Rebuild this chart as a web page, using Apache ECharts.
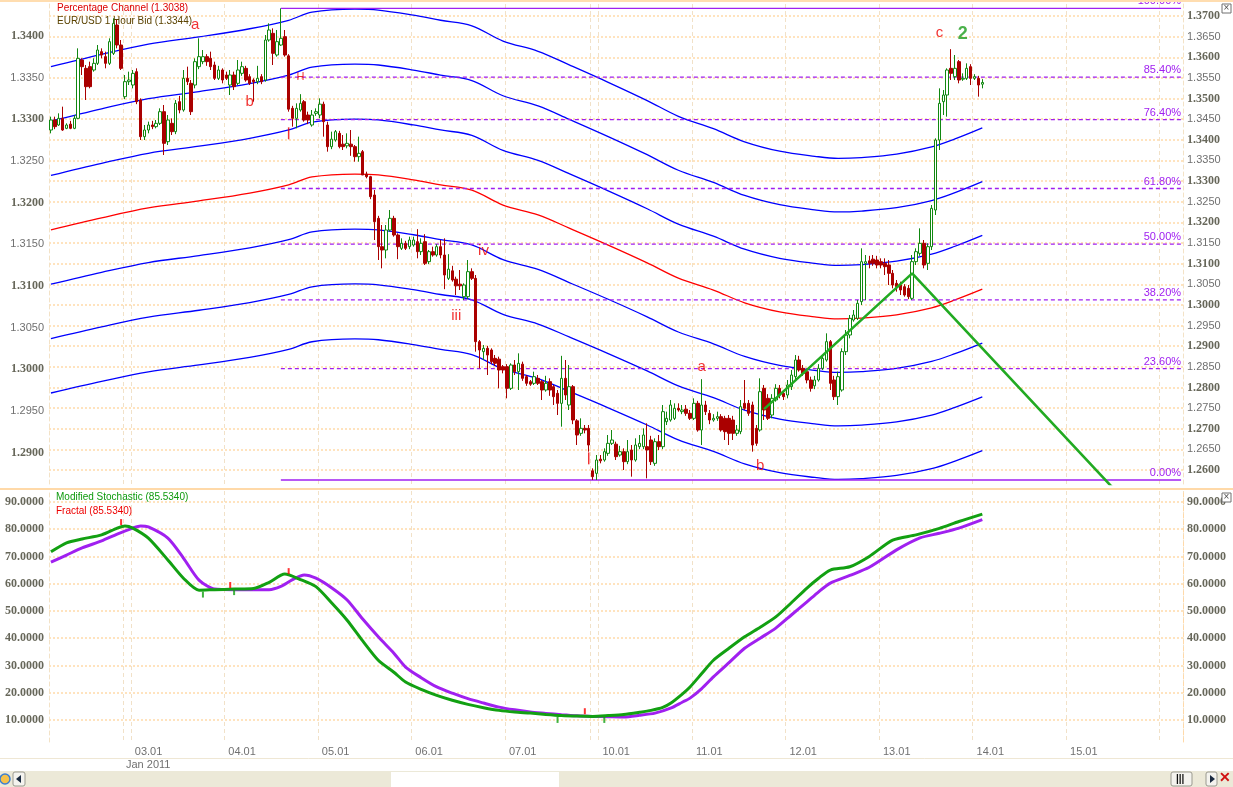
<!DOCTYPE html>
<html><head><meta charset="utf-8">
<script src="https://cdn.jsdelivr.net/npm/echarts@6/dist/echarts.min.js"></script>
<style>html,body{margin:0;padding:0;background:#fff}#c{width:1233px;height:787px}</style>
</head><body><div id="c"></div>
<script>
// ---- time axis (hourly bars, trading sessions) ----
const sessions = [['2010-12-31',3,21],['2011-01-02',22,23],['2011-01-03',0,23],['2011-01-04',0,23],['2011-01-05',0,23],['2011-01-06',0,23],['2011-01-07',0,21],['2011-01-09',22,23],['2011-01-10',0,23],['2011-01-11',0,23],['2011-01-12',0,23],['2011-01-13',0,23],['2011-01-14',0,23],['2011-01-15',0,23],['2011-01-16',0,5]];
const monthNames = ['Jan','Feb','Mar','Apr','May','Jun','Jul','Aug','Sep','Oct','Nov','Dec'];

// ---- EUR/USD 1 hour bid candles ----
const opens = [
1.3287,1.3299,1.3293,1.3301,1.3289,1.3294,1.3289,1.3301,1.3371,1.3361,
1.3363,1.3359,1.3367,1.3381,1.3375,1.3367,1.3379,1.3413,1.3389,1.3327,
1.3345,1.3341,1.3357,1.3323,1.3279,1.3287,1.3293,1.3291,1.3295,1.3309,
1.3273,1.3295,1.3285,1.3321,1.3311,1.3349,1.3343,1.3341,1.3363,1.3369,
1.3375,1.3373,1.3365,1.3349,1.3359,1.3353,1.3341,1.3353,1.3343,1.3355,
1.3361,1.3351,1.3347,1.3345,1.3351,1.3347,1.3395,1.3403,1.3377,1.3389,
1.3399,1.3376,1.3313,1.3301,1.3311,1.3321,1.3305,1.3293,1.3307,1.3305,
1.3318,1.3293,1.3267,1.3275,1.3283,1.3270,1.3268,1.3270,1.3267,1.3255,
1.3261,1.3234,1.3231,1.3209,1.3181,1.3147,1.3143,1.3167,1.3181,1.3161,
1.3145,1.3151,1.3147,1.3149,1.3153,1.3141,1.3153,1.3129,1.3141,1.3137,
1.3147,1.3137,1.3109,1.3118,1.3108,1.3102,1.3087,1.3087,1.3117,1.3109,
1.3033,1.3021,1.3025,1.3023,1.3013,1.3012,1.3003,1.3003,1.2977,1.3005,
1.2997,1.3006,1.2991,1.2985,1.2983,1.2989,1.2985,1.2975,1.2985,1.2979,
1.2971,1.2959,1.2989,1.2957,1.2979,1.2938,1.2923,1.2929,1.2929,1.2878,
1.2875,1.2892,1.2891,1.2899,1.2911,1.2910,1.2897,1.2901,1.2889,1.2903,
1.2891,1.2907,1.2907,1.2907,1.2915,1.2887,1.2913,1.2907,1.2937,1.2939,
1.2941,1.2953,1.2949,1.2952,1.2947,1.2941,1.2959,1.2927,1.2957,1.2947,
1.2939,1.2941,1.2943,1.2941,1.2941,1.2939,1.2923,1.2925,1.2959,1.2959,
1.2957,1.2929,1.2927,1.2977,1.2965,1.2945,1.2963,1.2977,1.2971,1.2969,
1.2979,1.2991,1.3011,1.3001,1.2997,1.2987,1.2980,1.2987,1.3001,1.3011,
1.3033,1.2987,1.2967,1.2975,1.3021,1.3041,1.3059,1.3061,1.3081,1.3127,
1.3130,1.3132,1.3131,1.3129,1.3127,1.3125,1.3115,1.3103,1.3101,1.3099,
1.3097,1.3085,1.3129,1.3139,1.3151,1.3127,1.3147,1.3191,1.3275,1.3321,
1.3329,1.3361,1.3351,1.3369,1.3348,1.3349,1.3363,1.3349,1.3349,1.3342];
const closes = [
1.3299,1.3291,1.3301,1.3287,1.3293,1.3289,1.3301,1.3373,1.3363,1.3339,
1.3339,1.3367,1.3383,1.3377,1.3367,1.3393,1.3415,1.3389,1.3361,1.3345,
1.3347,1.3355,1.3321,1.3279,1.3287,1.3293,1.3291,1.3295,1.3309,1.3271,
1.3299,1.3285,1.3319,1.3311,1.3349,1.3345,1.3309,1.3369,1.3375,1.3375,
1.3369,1.3363,1.3349,1.3359,1.3347,1.3349,1.3353,1.3339,1.3359,1.3363,
1.3347,1.3343,1.3345,1.3349,1.3345,1.3395,1.3407,1.3379,1.3393,1.3397,
1.3377,1.3312,1.3301,1.3313,1.3319,1.3299,1.3299,1.3305,1.3309,1.3318,
1.3297,1.3267,1.3276,1.3285,1.3267,1.3267,1.3271,1.3267,1.3255,1.3259,
1.3233,1.3231,1.3207,1.3177,1.3147,1.3143,1.3167,1.3181,1.3161,1.3147,
1.3151,1.3145,1.3155,1.3155,1.3141,1.3151,1.3127,1.3141,1.3137,1.3147,
1.3137,1.3113,1.3120,1.3107,1.3100,1.3100,1.3101,1.3117,1.3109,1.3033,
1.3023,1.3025,1.3017,1.3009,1.3007,1.2999,1.2999,1.2977,1.3005,1.2997,
1.3007,1.2989,1.2983,1.2982,1.2991,1.2983,1.2975,1.2983,1.2975,1.2967,
1.2959,1.2989,1.2969,1.2979,1.2939,1.2921,1.2929,1.2927,1.2909,1.2871,
1.2891,1.2890,1.2901,1.2911,1.2915,1.2895,1.2901,1.2889,1.2901,1.2891,
1.2909,1.2911,1.2921,1.2903,1.2889,1.2913,1.2907,1.2949,1.2941,1.2957,
1.2953,1.2951,1.2951,1.2947,1.2941,1.2959,1.2927,1.2957,1.2949,1.2939,
1.2941,1.2943,1.2927,1.2925,1.2923,1.2923,1.2927,1.2955,1.2953,1.2947,
1.2909,1.2911,1.2973,1.2951,1.2941,1.2965,1.2977,1.2969,1.2967,1.2981,
1.2993,1.3011,1.2999,1.2995,1.2987,1.2977,1.2987,1.3001,1.3013,1.3033,
1.2983,1.2967,1.2991,1.3021,1.3041,1.3061,1.3065,1.3079,1.3129,1.3129,
1.3127,1.3127,1.3125,1.3125,1.3123,1.3115,1.3101,1.3099,1.3095,1.3089,
1.3087,1.3129,1.3141,1.3151,1.3125,1.3147,1.3193,1.3275,1.3319,1.3329,
1.3359,1.3355,1.3361,1.3347,1.3349,1.3361,1.3349,1.3351,1.3341,1.3344];
const highs = [
1.3303,1.3303,1.3307,1.3315,1.3295,1.3298,1.3305,1.3385,1.3373,1.3365,
1.3369,1.3373,1.3389,1.3385,1.3381,1.3397,1.3421,1.3419,1.3395,1.3353,
1.3357,1.3359,1.3361,1.3325,1.3293,1.3297,1.3298,1.3299,1.3313,1.3317,
1.3305,1.3301,1.3323,1.3328,1.3359,1.3363,1.3347,1.3373,1.3397,1.3383,
1.3378,1.3381,1.3369,1.3364,1.3361,1.3357,1.3359,1.3357,1.3371,1.3369,
1.3364,1.3354,1.3349,1.3364,1.3354,1.3401,1.3415,1.3409,1.3407,1.3433,
1.3407,1.3378,1.3316,1.3319,1.3330,1.3323,1.3309,1.3311,1.3313,1.3325,
1.3321,1.3297,1.3285,1.3287,1.3286,1.3281,1.3283,1.3287,1.3269,1.3279,
1.3263,1.3237,1.3232,1.3215,1.3184,1.3173,1.3173,1.3191,1.3184,1.3163,
1.3157,1.3154,1.3159,1.3159,1.3168,1.3157,1.3162,1.3143,1.3147,1.3150,
1.3155,1.3157,1.3138,1.3124,1.3111,1.3119,1.3103,1.3131,1.3121,1.3113,
1.3035,1.3029,1.3028,1.3025,1.3017,1.3015,1.3005,1.3006,1.3007,1.3011,
1.3019,1.3009,1.2993,1.2987,1.2997,1.2993,1.2987,1.2992,1.2989,1.2981,
1.2975,1.3016,1.3011,1.3005,1.2981,1.2940,1.2941,1.2933,1.2933,1.2881,
1.2897,1.2897,1.2905,1.2921,1.2927,1.2913,1.2908,1.2905,1.2915,1.2909,
1.2917,1.2921,1.2929,1.2935,1.2920,1.2917,1.2921,1.2957,1.2949,1.2963,
1.2959,1.2959,1.2957,1.2957,1.2951,1.2965,1.2962,1.2988,1.2962,1.2951,
1.2946,1.2949,1.2946,1.2944,1.2945,1.2944,1.2933,1.2963,1.2987,1.2963,
1.2961,1.2933,1.2989,1.2981,1.2970,1.2970,1.2982,1.2981,1.2975,1.2987,
1.2999,1.3017,1.3016,1.3005,1.2999,1.2991,1.2992,1.3006,1.3017,1.3043,
1.3035,1.2992,1.2997,1.3025,1.3047,1.3065,1.3071,1.3083,1.3145,1.3137,
1.3136,1.3137,1.3136,1.3133,1.3133,1.3131,1.3119,1.3107,1.3105,1.3102,
1.3101,1.3137,1.3145,1.3169,1.3155,1.3151,1.3197,1.3277,1.3337,1.3335,
1.3361,1.3384,1.3377,1.3371,1.3355,1.3367,1.3366,1.3354,1.3352,1.3348];
const lows = [
1.3283,1.3288,1.3292,1.3286,1.3288,1.3288,1.3288,1.3300,1.3353,1.3323,
1.3337,1.3357,1.3365,1.3373,1.3361,1.3365,1.3377,1.3385,1.3359,1.3324,
1.3341,1.3337,1.3318,1.3275,1.3275,1.3283,1.3288,1.3289,1.3293,1.3257,
1.3269,1.3281,1.3282,1.3307,1.3309,1.3341,1.3305,1.3337,1.3360,1.3366,
1.3364,1.3359,1.3347,1.3347,1.3343,1.3347,1.3329,1.3335,1.3341,1.3352,
1.3345,1.3341,1.3321,1.3342,1.3342,1.3345,1.3393,1.3365,1.3375,1.3388,
1.3375,1.3309,1.3291,1.3289,1.3309,1.3297,1.3294,1.3291,1.3304,1.3301,
1.3279,1.3261,1.3264,1.3273,1.3265,1.3263,1.3265,1.3256,1.3249,1.3249,
1.3233,1.3229,1.3204,1.3155,1.3131,1.3121,1.3133,1.3165,1.3159,1.3132,
1.3143,1.3143,1.3144,1.3147,1.3133,1.3137,1.3125,1.3126,1.3135,1.3135,
1.3133,1.3096,1.3107,1.3105,1.3089,1.3095,1.3083,1.3084,1.3107,1.3021,
1.3001,1.3011,1.2993,1.3006,1.3004,1.2977,1.2995,1.2965,1.2975,1.2993,
1.2975,1.2986,1.2980,1.2980,1.2981,1.2981,1.2963,1.2973,1.2968,1.2957,
1.2945,1.2931,1.2963,1.2951,1.2934,1.2909,1.2920,1.2923,1.2901,1.2867,
1.2867,1.2887,1.2889,1.2896,1.2909,1.2891,1.2895,1.2879,1.2886,1.2871,
1.2889,1.2904,1.2904,1.2869,1.2885,1.2884,1.2903,1.2904,1.2933,1.2937,
1.2939,1.2949,1.2946,1.2944,1.2939,1.2939,1.2925,1.2909,1.2945,1.2934,
1.2937,1.2938,1.2925,1.2915,1.2909,1.2915,1.2920,1.2922,1.2951,1.2944,
1.2901,1.2908,1.2925,1.2939,1.2939,1.2941,1.2961,1.2965,1.2963,1.2965,
1.2975,1.2987,1.2997,1.2992,1.2983,1.2973,1.2976,1.2985,1.2999,1.3009,
1.2975,1.2963,1.2957,1.2973,1.3017,1.3037,1.3057,1.3059,1.3077,1.3083,
1.3121,1.3124,1.3121,1.3121,1.3113,1.3101,1.3097,1.3093,1.3089,1.3087,
1.3084,1.3083,1.3125,1.3136,1.3121,1.3119,1.3143,1.3185,1.3263,1.3305,
1.3303,1.3347,1.3347,1.3343,1.3346,1.3347,1.3341,1.3347,1.3327,1.3337];

// ---- Percentage channel (centre line, right scale) ----
const channelIdx = [0,13,25,38,51,61,67,78,84,93,100,108,116,125,133,143,153,161,170,178,187,196,202,208,217,226,232,239];
const channelMid = [1.3182,1.3211,1.3235,1.3252,1.3271,1.3291,1.3310,1.3317,1.3315,1.3303,1.3291,1.3278,1.3242,1.3218,1.3186,1.3145,1.3102,1.3065,1.3036,1.3005,1.2983,1.2971,1.2966,1.2968,1.2976,1.2993,1.3012,1.3038];
const bandPercents = [3, 2, 1, 0, -1, -2, -3];

// ---- Fibonacci retracement levels (%) ----
const fibLevels = [0, 23.6, 38.2, 50, 61.8, 76.4, 85.4, 100];

// ---- Wave annotations ----
const waveLabels = ['a','b','iii','iv','a','b','c','2'];
const waveIdx = [37,51,104,111,167,182,228,234];
const wavePrice = [1.3413,1.3321,1.3064,1.3142,1.3003,1.2884,1.3403,1.3402];
const trendIdx = [183, 221, 273];
const trendPrice = [1.2952, 1.3115, 1.2855];
const priceMarkIdx = [61, 138];
const priceMarkVal = [1.3283, 1.2893];

// ---- Lower panel: stochastic ----
const stochMain = [[0,71.7],[4,75],[8,76.4],[13,77.9],[17,80.4],[19,81.2],[21,80.4],[25,76.7],[30,68.7],[34,62],[38,57.6],[42,57.8],[47,58],[52,58.2],[56,60.5],[60,63.5],[64,61.5],[68,58.9],[72,53],[76,46.6],[80,39],[84,31.9],[88,27.5],[91,23.9],[95,21.2],[99,19],[103,17.2],[107,15.7],[111,14.5],[115,13.5],[119,12.9],[123,12.5],[127,12],[131,11.6],[135,11.4],[139,11.3],[143,11.6],[147,12],[151,12.8],[154,13.5],[157,14.6],[159,16.1],[162,19.5],[164,22.1],[167,27],[170,31.9],[174,36.3],[178,40.5],[182,44],[186,47.8],[190,53],[194,58.4],[197,62],[200,65],[205,66.2],[210,70],[216,76],[222,77.9],[228,80.3],[233,82.8],[239,85.534]];
const stochSignal = [[0,67.9],[4,70.5],[8,73.1],[13,75.7],[17,78.2],[21,80.4],[23,81.2],[25,80.8],[30,76.7],[34,69.4],[38,61.3],[42,58],[47,57.8],[52,57.8],[56,57.8],[59,59],[62,61.5],[65,63.2],[68,62],[72,58.5],[76,54],[80,47],[84,40.5],[88,34.5],[91,29.4],[95,25.5],[99,22.1],[103,19.8],[107,17.8],[111,16.2],[115,14.7],[119,13.7],[123,12.9],[127,12.4],[131,11.9],[135,11.5],[139,11.3],[143,11.2],[147,11.1],[151,11.7],[155,12.5],[159,14.3],[162,16.5],[164,18],[167,21.5],[170,25.8],[174,31],[178,36.3],[182,40],[186,43.7],[190,48.5],[194,53.3],[197,57],[200,60.2],[205,63],[210,66],[217,72.4],[223,76.8],[228,78.5],[233,80.4],[239,83.5]];
const fractalUpIdx = [18,46,61,137];
const fractalUpVal = [82.6,59.5,64.6,13.2];
const fractalDownIdx = [39,47,130,142];
const fractalDownVal = [56,56.9,10,10];

// ---- build categories ----
const categories = [];
const sessionStarts = new Set();
sessions.forEach(([d,h0,h1]) => { sessionStarts.add(categories.length); for (let h=h0; h<=h1; h++) categories.push(d + ' ' + String(h).padStart(2,'0') + ':00'); });
const N = categories.length;
const hourOf = i => +categories[i].slice(11,13);
const isSep = i => i > 0 && (hourOf(i) === 0 || sessionStarts.has(i));
const isDay = i => hourOf(i) === 0 && i < N - 12;
const isMonth = i => i > 0 && categories[i].slice(5,7) !== categories[i-1].slice(5,7);
const dayFmt = v => v.slice(8,10) + '.' + v.slice(5,7);
const monthFmt = v => monthNames[+v.slice(5,7)-1] + ' ' + v.slice(0,4);

const rich = {
  b: {fontFamily:'Liberation Serif', fontWeight:'bold', fontSize:12, color:'#67675A'},
  n: {fontFamily:'Liberation Sans', fontSize:11, color:'#707070'}
};
const priceFmt = v => { const p = Math.round(v*10000); if (Math.abs(v*10000-p) > 0.01 || p % 50 !== 0) return ''; return (p % 100 === 0 ? '{b|' : '{n|') + (p/10000).toFixed(4) + '}'; };
const stochFmt = v => { const r = Math.round(v); if (Math.abs(v-r) > 1e-6 || r % 10 !== 0) return ''; return '{b|' + r.toFixed(4) + '}'; };

const vLine = {show:true, interval:(i)=>isSep(i), lineStyle:{color:'#F1E1C8', type:[4,3], width:1}};
const hLine = {show:true, showMinLine:false, showMaxLine:false, lineStyle:{color:'#FFDDAE', type:[2,2], width:1.6}};
const borderLine = {show:true, lineStyle:{color:'#F3E2C6', type:[4,3], width:1}};

const candles = opens.map((o,i)=>[o, closes[i], lows[i], highs[i]]);
const last = closes.length - 1;
const fibHigh = Math.max(...highs), fibLow = Math.min(...lows);
const fibStart = highs.indexOf(fibHigh);
const fibEnd = N - 1;

const series = [];
bandPercents.forEach(p => series.push({
  type:'line', xAxisIndex:0, yAxisIndex:1, symbol:'none', smooth:0.35, silent:true, z:2,
  lineStyle:{color: p === 0 ? '#FF0000' : '#0000FF', width:1.3},
  data: channelIdx.map((x,k)=>[x, +(channelMid[k]*(1+p/100)).toFixed(5)])
}));
fibLevels.forEach(l => {
  const v = fibLow + (fibHigh-fibLow)*l/100;
  series.push({
    type:'line', xAxisIndex:0, yAxisIndex:0, symbol:'circle', symbolSize:1, silent:true, z:3,
    itemStyle:{color:'rgba(0,0,0,0)'},
    lineStyle:{color:'#A020F0', width:1.3, type:(l===0||l===100)?'solid':[4,3]},
    data:[[fibStart, v], {value:[fibEnd, v], label:{show:true, position:'top', align:'right', distance:1, formatter:l.toFixed(2)+'%', color:'#A020F0', fontSize:11, fontFamily:'Liberation Sans'}}]
  });
});
series.push({
  type:'candlestick', xAxisIndex:0, yAxisIndex:0, barWidth:3, z:5,
  itemStyle:{color:'#FFFFFF', color0:'#AA0000', borderColor:'#118811', borderColor0:'#AA0000', borderWidth:1},
  data: candles
});
series.push({
  type:'line', xAxisIndex:0, yAxisIndex:0, symbol:'none', z:6, silent:true,
  lineStyle:{color:'#22AA22', width:2.6},
  data: trendIdx.map((x,k)=>[x, trendPrice[k]])
});
series.push({
  type:'scatter', xAxisIndex:0, yAxisIndex:0, symbol:'circle', symbolSize:1, z:7, silent:true,
  itemStyle:{color:'rgba(0,0,0,0)'},
  data: waveIdx.map((x,k)=>({value:[x, wavePrice[k]], label:{show:true, position:'inside', formatter:waveLabels[k],
    color: waveLabels[k]==='2' ? '#1E9E1E' : '#EE0000', fontSize: waveLabels[k]==='2' ? 18 : 15,
    fontWeight: waveLabels[k]==='2' ? 'bold' : 'normal', fontFamily:'Liberation Sans'}}))
});
series.push({
  type:'scatter', xAxisIndex:0, yAxisIndex:0, symbol:'rect', symbolSize:[1.5,12], z:7, silent:true,
  itemStyle:{color:'#EE0000'},
  data: priceMarkIdx.map((x,k)=>[x, priceMarkVal[k]])
});
series.push({
  type:'scatter', xAxisIndex:0, yAxisIndex:0, symbol:'circle', symbolSize:1, z:7, silent:true,
  itemStyle:{color:'rgba(0,0,0,0)'},
  data:[{value:[64, 1.3351], label:{show:true, position:'inside', formatter:'H', color:'#EE0000', fontSize:11, fontFamily:'Liberation Sans'}}]
});
series.push({
  type:'line', xAxisIndex:1, yAxisIndex:2, symbol:'none', smooth:0.25, silent:true, z:4,
  lineStyle:{color:'#A020F0', width:3}, data: stochSignal
});
series.push({
  type:'line', xAxisIndex:1, yAxisIndex:2, symbol:'none', smooth:0.25, silent:true, z:5,
  lineStyle:{color:'#12A012', width:3}, data: stochMain
});
series.push({
  type:'scatter', xAxisIndex:1, yAxisIndex:2, symbol:'rect', symbolSize:[2,6], z:6, silent:true,
  itemStyle:{color:'#FF0000'}, data: fractalUpIdx.map((x,k)=>[x, fractalUpVal[k]])
});
series.push({
  type:'scatter', xAxisIndex:1, yAxisIndex:2, symbol:'rect', symbolSize:[2,6], z:6, silent:true,
  itemStyle:{color:'#12A012'}, data: fractalDownIdx.map((x,k)=>[x, fractalDownVal[k]])
});

const txt = (x, y, text, fill, size, extra) => ({type:'text', x, y, silent:true, z:100,
  style: Object.assign({text, fill, fontSize:size||10, fontFamily:'Liberation Sans', verticalAlign:'top'}, extra||{})});

const option = {
  animation:false,
  backgroundColor:'#FFFFFF',
  grid:[
    {left:49, right:50, top:4, height:480},
    {left:49, right:50, top:491, height:251}
  ],
  xAxis:[
    {type:'category', gridIndex:0, data:categories, boundaryGap:true, axisLine:{show:false}, axisTick:{show:false}, axisLabel:{show:false}, splitLine:vLine},
    {type:'category', gridIndex:1, data:categories, boundaryGap:true, axisLine:{show:false}, axisTick:{show:false}, splitLine:vLine,
      axisLabel:{show:true, interval:(i)=>isDay(i), formatter:dayFmt, align:'left', padding:[0,0,0,2], margin:4, color:'#707070', fontSize:11, fontFamily:'Liberation Sans'}},
    {type:'category', gridIndex:1, data:categories, boundaryGap:true, position:'bottom', offset:13, axisLine:{show:false}, axisTick:{show:false}, splitLine:{show:false},
      axisLabel:{show:true, interval:(i)=>isMonth(i), formatter:monthFmt, align:'left', padding:[0,0,0,1], margin:4, color:'#707070', fontSize:11, fontFamily:'Liberation Sans'}}
  ],
  yAxis:[
    {type:'value', gridIndex:0, position:'left', min:1.28622, max:1.34382, splitNumber:12, minInterval:0.005, maxInterval:0.005,
      axisLine:borderLine, axisTick:{show:false}, splitLine:{show:false},
      axisLabel:{margin:5, showMinLabel:false, showMaxLabel:false, formatter:priceFmt, rich}},
    {type:'value', gridIndex:0, position:'right', min:1.2566, max:1.37291, splitNumber:23, minInterval:0.005, maxInterval:0.005,
      axisLine:borderLine, axisTick:{show:false}, splitLine:hLine,
      axisLabel:{margin:4, showMinLabel:false, showMaxLabel:false, formatter:priceFmt, rich}},
    {type:'value', gridIndex:1, position:'left', min:1.9, max:94, splitNumber:9, minInterval:10, maxInterval:10,
      axisLine:borderLine, axisTick:{show:false}, splitLine:hLine,
      axisLabel:{margin:5, showMinLabel:false, showMaxLabel:false, formatter:stochFmt, rich}},
    {type:'value', gridIndex:1, position:'right', min:1.9, max:94, splitNumber:9, minInterval:10, maxInterval:10,
      axisLine:{show:true, lineStyle:{color:'#FFD9A8', type:[4,3], width:1}}, axisTick:{show:false}, splitLine:{show:false},
      axisLabel:{margin:4, showMinLabel:false, showMaxLabel:false, formatter:stochFmt, rich}}
  ],
  series,
  graphic:[
    {type:'rect', silent:true, z:90, shape:{x:0, y:0, width:1233, height:2}, style:{fill:'#FFDDB0'}},
    {type:'rect', silent:true, z:90, shape:{x:0, y:488, width:1233, height:2}, style:{fill:'#FFD9A8'}},
    {type:'line', silent:true, z:90, shape:{x1:0, y1:758.5, x2:1233, y2:758.5}, style:{stroke:'#EFE7D4', lineWidth:1}},
    {type:'rect', silent:true, z:90, shape:{x:0, y:771, width:1233, height:16}, style:{fill:'#ECE9D8'}},
    {type:'rect', silent:true, z:91, shape:{x:391, y:772, width:168, height:15}, style:{fill:'#FFFFFF'}},
    {type:'circle', silent:true, z:92, shape:{cx:5, cy:779, r:5}, style:{fill:'#F5C24A', stroke:'#3C7FD0', lineWidth:1.5}},
    {type:'rect', silent:true, z:92, shape:{x:13, y:772, width:12, height:14, r:2}, style:{fill:'#F4F3EE', stroke:'#9A9A90'}},
    {type:'polygon', silent:true, z:93, shape:{points:[[21,775],[21,783],[16,779]]}, style:{fill:'#1A2A40'}},
    {type:'rect', silent:true, z:92, shape:{x:1171, y:772, width:21, height:14, r:2}, style:{fill:'#F4F3EE', stroke:'#9A9A90'}},
    txt(1176, 774, '|||', '#111111', 10, {fontWeight:'bold'}),
    {type:'rect', silent:true, z:92, shape:{x:1206, y:772, width:11, height:14, r:2}, style:{fill:'#F4F3EE', stroke:'#9A9A90'}},
    {type:'polygon', silent:true, z:93, shape:{points:[[1210,775],[1210,783],[1215,779]]}, style:{fill:'#1A2A40'}},
    txt(1219, 771, '✕', '#D01010', 14, {fontWeight:'bold'}),
    {type:'rect', silent:true, z:92, shape:{x:1222, y:4, width:9, height:9}, style:{fill:'#FFFFFF', stroke:'#707070', lineWidth:1}},
    txt(1223.5, 3.5, '×', '#505050', 10),
    {type:'rect', silent:true, z:92, shape:{x:1222, y:493, width:9, height:9}, style:{fill:'#FFFFFF', stroke:'#707070', lineWidth:1}},
    txt(1223.5, 492.5, '×', '#505050', 10),
    txt(57, 3, 'Percentage Channel (' + channelMid[channelMid.length-1].toFixed(4) + ')', '#DD0000', 10),
    txt(57, 16, 'EUR/USD 1 Hour Bid (' + closes[last].toFixed(4) + ')', '#5A4200', 10),
    txt(56, 492, 'Modified Stochastic (' + stochMain[stochMain.length-1][1].toFixed(4) + ')', '#0E9A0E', 10),
    txt(56, 506, 'Fractal (' + stochMain[stochMain.length-1][1].toFixed(4) + ')', '#EE0000', 10)
  ]
};
const chart = echarts.init(document.getElementById('c'), null, {renderer:'canvas'});
chart.setOption(option);
</script>
</body></html>
